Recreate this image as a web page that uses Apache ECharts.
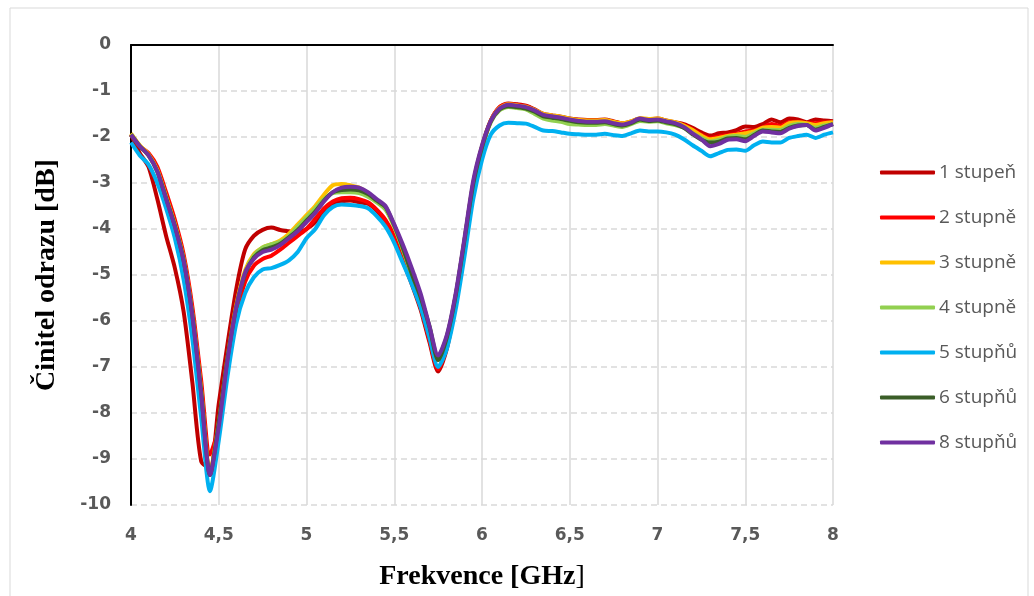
<!DOCTYPE html>
<html>
<head>
<meta charset="utf-8">
<script src="https://cdn.jsdelivr.net/npm/echarts@6/dist/echarts.min.js"></script>
<style>
  html, body { margin: 0; padding: 0; background: #fff; }
  #chart { width: 1034px; height: 596px; }
</style>
</head>
<body>
<div id="chart"></div>
<script>
// frequency points [GHz]
const freq = [
  4.00, 4.05, 4.10, 4.15, 4.20, 4.25, 4.30, 4.35, 4.40, 4.45,
  4.50, 4.55, 4.60, 4.65, 4.70, 4.75, 4.80, 4.85, 4.90, 4.95,
  5.00, 5.05, 5.10, 5.15, 5.20, 5.25, 5.30, 5.35, 5.40, 5.45,
  5.50, 5.55, 5.60, 5.65, 5.70, 5.75, 5.80, 5.85, 5.90, 5.95,
  6.00, 6.05, 6.10, 6.15, 6.20, 6.25, 6.30, 6.35, 6.40, 6.45,
  6.50, 6.55, 6.60, 6.65, 6.70, 6.75, 6.80, 6.85, 6.90, 6.95,
  7.00, 7.05, 7.10, 7.15, 7.20, 7.25, 7.30, 7.35, 7.40, 7.45,
  7.50, 7.55, 7.60, 7.65, 7.70, 7.75, 7.80, 7.85, 7.90, 7.95, 8.00
];

const s1 = [ // 1 stupeň
  -1.95, -2.35, -2.65, -3.35, -4.15, -4.85, -5.80, -7.35, -9.05, -9.20,
  -7.80, -6.50, -5.30, -4.45, -4.15, -4.02, -3.97, -4.02, -4.05, -4.08,
  -4.00, -3.85, -3.60, -3.45, -3.40, -3.38, -3.42, -3.45, -3.60, -3.85,
  -4.20, -4.70, -5.20, -5.75, -6.45, -7.10, -6.60, -5.60, -4.40, -3.10,
  -2.25, -1.65, -1.35, -1.27, -1.29, -1.32, -1.40, -1.50, -1.53, -1.56,
  -1.60, -1.62, -1.63, -1.63, -1.62, -1.66, -1.70, -1.66, -1.60, -1.62,
  -1.60, -1.64, -1.68, -1.72, -1.80, -1.90, -1.97, -1.92, -1.90, -1.85,
  -1.77, -1.78, -1.72, -1.62, -1.68, -1.60, -1.62, -1.68, -1.62, -1.64, -1.66
];
const s2 = [ // 2 stupně
  -1.95, -2.20, -2.35, -2.65, -3.20, -3.80, -4.55, -5.70, -7.30, -8.90,
  -8.30, -7.00, -5.90, -5.15, -4.80, -4.65, -4.58, -4.45, -4.30, -4.15,
  -4.00, -3.78, -3.55, -3.40, -3.33, -3.32, -3.35, -3.42, -3.58, -3.80,
  -4.15, -4.65, -5.15, -5.70, -6.40, -7.05, -6.55, -5.55, -4.35, -3.05,
  -2.22, -1.64, -1.35, -1.28, -1.30, -1.33, -1.41, -1.51, -1.54, -1.57,
  -1.61, -1.63, -1.64, -1.64, -1.63, -1.67, -1.71, -1.67, -1.61, -1.63,
  -1.61, -1.65, -1.69, -1.74, -1.84, -1.95, -2.03, -1.99, -1.96, -1.93,
  -1.88, -1.86, -1.79, -1.72, -1.76, -1.68, -1.67, -1.70, -1.70, -1.68, -1.68
];
const s3 = [ // 3 stupně
  -1.92, -2.18, -2.38, -2.72, -3.30, -3.90, -4.65, -5.85, -7.50, -9.30,
  -8.20, -6.80, -5.65, -4.90, -4.55, -4.40, -4.33, -4.25, -4.10, -3.90,
  -3.70, -3.50, -3.25, -3.05, -3.02, -3.05, -3.10, -3.22, -3.38, -3.55,
  -3.95, -4.45, -5.00, -5.50, -6.15, -6.85, -6.35, -5.45, -4.25, -3.00,
  -2.20, -1.65, -1.37, -1.29, -1.31, -1.34, -1.41, -1.50, -1.53, -1.56,
  -1.60, -1.63, -1.64, -1.64, -1.63, -1.67, -1.70, -1.66, -1.59, -1.61,
  -1.60, -1.64, -1.68, -1.75, -1.85, -1.97, -2.05, -2.02, -1.98, -1.95,
  -1.92, -1.88, -1.80, -1.78, -1.80, -1.70, -1.68, -1.70, -1.74, -1.70, -1.68
];
const s4 = [ // 4 stupně
  -1.94, -2.20, -2.40, -2.74, -3.32, -3.92, -4.68, -5.88, -7.55, -9.35,
  -8.25, -6.85, -5.70, -4.95, -4.58, -4.40, -4.33, -4.28, -4.15, -3.95,
  -3.75, -3.55, -3.35, -3.22, -3.20, -3.20, -3.22, -3.30, -3.42, -3.58,
  -3.95, -4.45, -5.00, -5.50, -6.10, -6.80, -6.32, -5.45, -4.25, -3.02,
  -2.22, -1.68, -1.42, -1.35, -1.37, -1.40, -1.50, -1.60, -1.64, -1.67,
  -1.72, -1.73, -1.74, -1.74, -1.72, -1.75, -1.78, -1.72, -1.65, -1.67,
  -1.66, -1.70, -1.74, -1.80, -1.92, -2.02, -2.10, -2.06, -2.00, -1.98,
  -2.00, -1.92, -1.84, -1.84, -1.85, -1.76, -1.72, -1.74, -1.80, -1.75, -1.72
];
const s5 = [ // 5 stupňů
  -2.12, -2.40, -2.60, -3.00, -3.55, -4.20, -5.10, -6.40, -8.10, -9.70,
  -8.60, -7.20, -6.05, -5.40, -5.05, -4.88, -4.85, -4.78, -4.68, -4.50,
  -4.20, -4.00, -3.70, -3.52, -3.47, -3.48, -3.50, -3.55, -3.72, -3.95,
  -4.30, -4.75, -5.20, -5.70, -6.35, -7.00, -6.60, -5.75, -4.60, -3.35,
  -2.50, -1.95, -1.75, -1.69, -1.70, -1.71, -1.78, -1.86, -1.87, -1.90,
  -1.93, -1.94, -1.95, -1.95, -1.93, -1.96, -1.98, -1.92, -1.86, -1.88,
  -1.88, -1.90, -1.95, -2.05, -2.18, -2.30, -2.42, -2.35, -2.28, -2.27,
  -2.30, -2.18, -2.10, -2.12, -2.12, -2.02, -1.98, -1.95, -2.02, -1.95, -1.90
];
const s6 = [ // 6 stupňů
  -1.95, -2.20, -2.40, -2.75, -3.33, -3.93, -4.68, -5.88, -7.55, -9.35,
  -8.20, -6.80, -5.70, -4.98, -4.62, -4.46, -4.40, -4.32, -4.18, -4.02,
  -3.82, -3.62, -3.38, -3.20, -3.15, -3.14, -3.16, -3.24, -3.38, -3.52,
  -3.92, -4.42, -4.98, -5.48, -6.12, -6.85, -6.35, -5.45, -4.25, -3.02,
  -2.22, -1.66, -1.40, -1.33, -1.35, -1.38, -1.45, -1.55, -1.58, -1.61,
  -1.65, -1.68, -1.69, -1.69, -1.68, -1.72, -1.75, -1.70, -1.62, -1.65,
  -1.64, -1.68, -1.72, -1.80, -1.94, -2.06, -2.12, -2.10, -2.03, -2.02,
  -2.05, -1.96, -1.86, -1.88, -1.89, -1.80, -1.75, -1.74, -1.84, -1.78, -1.72
];
const s8 = [ // 8 stupňů
  -1.95, -2.20, -2.40, -2.75, -3.35, -3.95, -4.70, -5.90, -7.60, -9.35,
  -8.30, -6.85, -5.70, -4.95, -4.65, -4.50, -4.45, -4.35, -4.20, -4.05,
  -3.85, -3.65, -3.40, -3.20, -3.10, -3.08, -3.10, -3.20, -3.35, -3.50,
  -3.90, -4.35, -4.85, -5.40, -6.10, -6.75, -6.30, -5.40, -4.20, -2.95,
  -2.18, -1.65, -1.38, -1.30, -1.32, -1.35, -1.42, -1.52, -1.55, -1.58,
  -1.62, -1.65, -1.67, -1.67, -1.66, -1.70, -1.73, -1.68, -1.60, -1.63,
  -1.62, -1.66, -1.70, -1.78, -1.92, -2.05, -2.20, -2.15, -2.06, -2.05,
  -2.09, -1.98, -1.88, -1.90, -1.92, -1.82, -1.76, -1.74, -1.86, -1.80, -1.72
];

const names = ['1 stupeň', '2 stupně', '3 stupně', '4 stupně', '5 stupňů', '6 stupňů', '8 stupňů'];
const colors = ['#C00000', '#FF0000', '#FFC000', '#92D050', '#00B0F0', '#3B5E28', '#7030A0'];
const values = [s1, s2, s3, s4, s5, s6, s8];

var chart = echarts.init(document.getElementById('chart'));

var series = names.map(function (n, i) {
  return {
    name: n,
    type: 'line',
    showSymbol: false,
    smooth: 0.25,
    lineStyle: { width: 4, color: colors[i] },
    itemStyle: { color: colors[i] },
    data: freq.map(function (f, k) { return [f, values[i][k]]; })
  };
});

var option = {
  animation: false,
  backgroundColor: '#fff',
  graphic: [{
    type: 'rect',
    shape: { x: 10, y: 8, width: 1018, height: 600 },
    style: { fill: 'none', stroke: '#d9d9d9', lineWidth: 1 },
    silent: true
  }],
  grid: { left: 131, right: 201, top: 45, bottom: 89 },
  legend: {
    orient: 'vertical',
    left: 875,
    top: 158,
    itemWidth: 55,
    itemHeight: 4,
    itemGap: 26,
    icon: 'roundRect',
    textStyle: { color: '#595959', fontSize: 19, fontFamily: 'Open Sans', padding: [0, 0, 0, -1] },
    data: names
  },
  xAxis: {
    type: 'value',
    min: 4,
    max: 8,
    interval: 0.5,
    name: '{b|Frekvence [GHz}{n|]}',
    nameLocation: 'middle',
    nameGap: 58,
    nameTextStyle: {
      color: '#000',
      rich: {
        b: { fontFamily: 'Liberation Serif', fontWeight: 'bold', fontSize: 28, color: '#000' },
        n: { fontFamily: 'Liberation Serif', fontWeight: 'normal', fontSize: 28, color: '#000' }
      }
    },
    axisLine: { lineStyle: { color: '#000', width: 2 } },
    axisTick: { show: false },
    axisLabel: {
      color: '#595959',
      fontWeight: 'bold',
      fontSize: 17,
      fontFamily: 'DejaVu Sans',
      margin: 22,
      formatter: function (v) { return String(v).replace('.', ','); }
    },
    splitLine: { show: true, lineStyle: { color: '#d9d9d9', width: 1.5 } }
  },
  yAxis: {
    type: 'value',
    min: -10,
    max: 0,
    interval: 1,
    name: 'Činitel odrazu [dB]',
    nameLocation: 'middle',
    nameGap: 70,
    nameTextStyle: {
      fontFamily: 'Liberation Serif',
      fontWeight: 'bold',
      fontSize: 28,
      color: '#000'
    },
    axisLine: { show: true, onZero: false, lineStyle: { color: '#000', width: 2 } },
    axisTick: { show: false },
    axisLabel: {
      color: '#595959',
      fontWeight: 'bold',
      fontSize: 17,
      fontFamily: 'DejaVu Sans',
      margin: 20
    },
    splitLine: { show: true, lineStyle: { color: '#d9d9d9', type: [6, 4], width: 1.5 } }
  },
  series: series
};

chart.setOption(option);
</script>
</body>
</html>
